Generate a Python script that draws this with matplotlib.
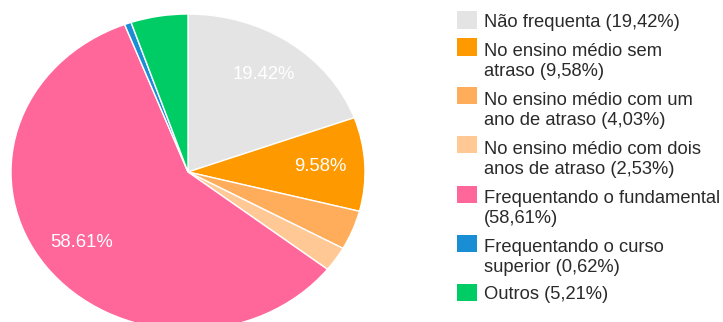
import matplotlib.pyplot as plt
from matplotlib.patches import Rectangle

plt.rcParams['font.family'] = ['Liberation Sans', 'DejaVu Sans']

rotulos = [
    "Não frequenta",
    "No ensino médio sem\natraso",
    "No ensino médio com um\nano de atraso",
    "No ensino médio com dois\nanos de atraso",
    "Frequentando o fundamental\n",
    "Frequentando o curso\nsuperior",
    "Outros",
]
valores = [19.42, 9.58, 4.03, 2.53, 58.61, 0.62, 5.21]
cores = ["#e4e4e4", "#ff9900", "#ffad5a", "#ffc894", "#ff6699", "#1a8ed4", "#00cc66"]

fig = plt.figure(figsize=(7.23, 3.22), dpi=100)
W, H = 723, 322

# pizza levemente achatada (esticada na horizontal)
cx, cy, rx, ry = 188, 172, 177, 158
ax = fig.add_axes([(cx - rx) / W, (H - cy - ry) / H, 2 * rx / W, 2 * ry / H])


def rotulo_pct(p):
    return f"{p:.2f}%" if p > 8 else ""


ax.pie(valores, colors=cores, startangle=90, counterclock=False,
       autopct=rotulo_pct, pctdistance=0.75,
       wedgeprops=dict(edgecolor="white", linewidth=1),
       textprops=dict(color="white", fontsize=13.3))
ax.set_aspect('auto')
ax.set_xlim(-1, 1)
ax.set_ylim(-1, 1)
ax.axis("off")

# legenda manual (linha de 22 px)
y = 20
for rot, v, c in zip(rotulos, valores, cores):
    pct = f"({v:.2f}%)".replace(".", ",")
    txt = rot + pct if rot.endswith("\n") else rot + " " + pct
    n = txt.count("\n") + 1
    fig.patches.append(Rectangle((457 / W, 1 - (y + 8.5) / H), 20 / W, 17 / H,
                                 transform=fig.transFigure, facecolor=c,
                                 edgecolor="none"))
    base = y + 7 + (n - 1) * 22
    fig.text(484 / W, 1 - base / H, txt, fontsize=13.2, color="#2a2a2a",
             va="baseline", ha="left", linespacing=1.2)
    y += n * 22 + 5

fig.savefig("out.png", dpi=100)
